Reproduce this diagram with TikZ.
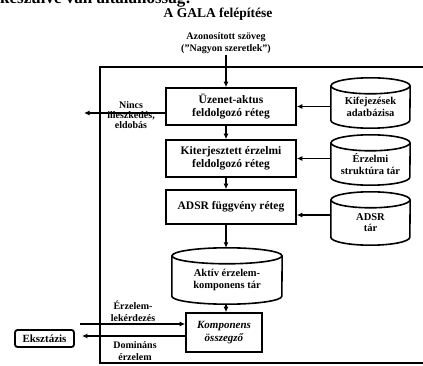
\documentclass[tikz,border=0pt]{standalone}
\usepackage{fontspec}
\setmainfont{Liberation Serif}
\usetikzlibrary{arrows.meta,calc}
\newcommand\dbcyl[6]{%
  \node[inner sep=0pt, minimum width=#4pt, minimum height=#5pt] (#1) at (#2,#3) {};
  \draw[cyl] ($(#1.north west)+(0,-8)$) -- ($(#1.south west)+(0,8)$)
     arc[start angle=180,end angle=360,x radius=#4/2,y radius=8] -- ($(#1.north east)+(0,-8)$);
  \draw[cyl] ($(#1.north)+(0,-8)$) ellipse[x radius=#4/2, y radius=8];
  \node[lbl] (#1t) at ($(#1.center)+(0,-4)$) {#6};
}
\begin{document}
\begin{tikzpicture}[x=1pt,y=1pt,
  lbl/.style={font=\bfseries\fontsize{10.5}{11.5}\selectfont, align=center, inner sep=0pt},
  layer/.style={draw, line width=1.6pt, minimum width=130pt, minimum height=37pt, align=center, inner sep=0pt,
    font=\bfseries\fontsize{11.5}{12.5}\selectfont},
  arr/.style={line width=1.3pt, -{Latex[length=5.5pt,width=5pt]}},
  cyl/.style={line width=1.6pt}]
\useasboundingbox (0,0) rectangle (423,-366);
\clip (0,0) rectangle (423,-366);
% cut-off heading line
\node[anchor=base west, inner sep=0pt, font=\bfseries\fontsize{17}{17}\selectfont] (cut) at (0,-4) {készülve van általánosság:};
% title
\node[font=\bfseries\fontsize{13.5}{14}\selectfont, inner sep=0pt] (ttl) at (218,-14) {A GALA felépítése};
\node[lbl, font=\bfseries\fontsize{10}{12}\selectfont] (hdr) at (226,-43) {Azonosított szöveg\\("Nagyon szeretlek")};
% frame
\draw[line width=1.6pt] (430,-67) -- (100,-67) -- (100,-363) -- (430,-363);
% layers
\node[layer] (b1) at (231,-106.5) {Üzenet-aktus\\feldolgozó réteg};
\node[layer] (b2) at (231,-158.5) {Kiterjesztett érzelmi\\feldolgozó réteg};
\node[layer, minimum height=34pt] (b3) at (231,-207) {ADSR függvény réteg};
\node[layer, minimum width=76pt, minimum height=39pt, font=\bfseries\itshape\fontsize{11}{12.5}\selectfont] (komp) at (224,-332.5) {Komponens\\összegző};
% stores
\dbcyl{kif}{370.5}{-103}{79}{50}{Kifejezések\\adatbázisa}
\dbcyl{esz}{370.5}{-160}{79}{50}{Érzelmi\\struktúra tár}
\dbcyl{adt}{370.5}{-218.5}{79}{53}{ADSR\\tár}
\dbcyl{akt}{227}{-276}{110}{56}{Aktív érzelem-\\komponens tár}
% vertical flow
\coordinate (src) at (226,-55);
\draw[arr] (src) -- (src |- b1.north);
\draw[arr] (b1.south -| src) -- (b2.north -| src);
\draw[arr] (b2.south -| src) -- (b3.north -| src);
\draw[arr] (b3.south -| src) -- (akt.north -| src);
\draw[arr] (akt.south -| src) -- (komp.north -| src);
% stores to layers
\draw[arr] (kif.west |- b1.east) -- (b1.east);
\draw[arr] (esz.west |- b2.east) -- (b2.east);
\coordinate (a3) at (331,-215);
\draw[arr] (a3) -- (a3 -| b3.east);
% discard
\coordinate (nout) at (84,-113);
\draw[arr] (b1.west |- nout) -- (nout);
\node[lbl, font=\bfseries\fontsize{10}{10}\selectfont] (nlbl) at (131,-115) {Nincs\\illeszkedés,\\eldobás};
% query
\coordinate (qin) at (80,-324);
\draw[arr] (qin) -- (qin -| komp.west);
\node[lbl, font=\bfseries\fontsize{10}{12}\selectfont] (qlbl) at (133,-311) {Érzelem-\\lekérdezés};
% dominant
\node[draw, line width=1.8pt, rounded corners=2.5pt, minimum width=59pt, minimum height=17pt, inner sep=0pt,
  font=\bfseries\fontsize{11}{12}\selectfont] (eks) at (44.5,-338.5) {Eksztázis};
\coordinate (dy) at (188,-336);
\draw[arr, shorten >=7pt] (dy -| komp.west) -- (dy -| eks.east);
\node[lbl, font=\bfseries\fontsize{10}{12}\selectfont] (dlbl) at (135,-351) {Domináns\\érzelem};
\end{tikzpicture}
\end{document}
